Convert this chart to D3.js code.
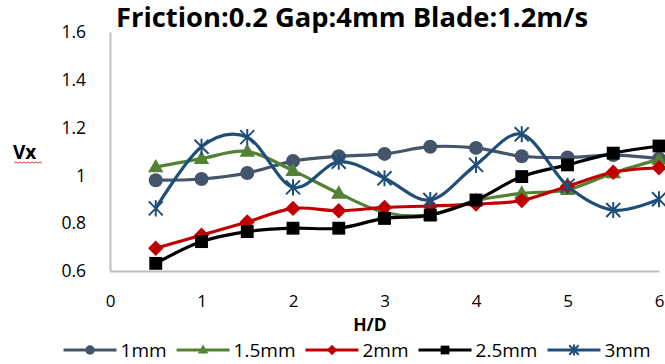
<!DOCTYPE html>
<html>
<head>
<meta charset="utf-8">
<script src="https://cdn.jsdelivr.net/npm/d3@7"></script>
<style>
  html, body { margin: 0; padding: 0; background: #fff; }
  svg { display: block; font-family: "Open Sans", "Noto Sans", sans-serif; }
</style>
</head>
<body>
<svg id="chart" width="665" height="364"></svg>
<script>
// H/D positions shared by every series
const hd = [0.5, 1, 1.5, 2, 2.5, 3, 3.5, 4, 4.5, 5, 5.5, 6];

// Vx for each blade gap
const vx1mm   = [0.98, 0.985, 1.01, 1.06, 1.08, 1.09, 1.12, 1.115, 1.08, 1.075, 1.085, 1.07];
const vx15mm  = [1.035, 1.07, 1.10, 1.02, 0.925, 0.845, 0.835, 0.895, 0.925, 0.94, 1.01, 1.067];
const vx2mm   = [0.695, 0.75, 0.805, 0.862, 0.852, 0.866, 0.872, 0.88, 0.895, 0.955, 1.013, 1.032];
const vx25mm  = [0.632, 0.723, 0.765, 0.779, 0.779, 0.82, 0.834, 0.897, 0.995, 1.044, 1.093, 1.123];
const vx3mm   = [0.862, 1.12, 1.16, 0.95, 1.057, 0.988, 0.897, 1.044, 1.172, 0.956, 0.855, 0.90];

const seriesNames = ["1mm", "1.5mm", "2mm", "2.5mm", "3mm"];
const seriesValues = [vx1mm, vx15mm, vx2mm, vx25mm, vx3mm];
const seriesColors = ["#44546A", "#548235", "#C00000", "#000000", "#1F4E79"];
const seriesMarkers = ["circle", "triangle", "diamond", "square", "star"];

const xTicks = [0, 1, 2, 3, 4, 5, 6];
const yTicks = [0.6, 0.8, 1.0, 1.2, 1.4, 1.6];

const titleText = "Friction:0.2 Gap:4mm Blade:1.2m/s";
const xTitle = "H/D";
const yTitle = "Vx";

const svg = d3.select("#chart");

const x = d3.scaleLinear().domain([0, 6]).range([110, 659]);
const y = d3.scaleLinear().domain([0.6, 1.6]).range([271, 32]);

// axes: plain grey lines, no tick marks
const xAxis = svg.append("g")
  .attr("transform", `translate(0,${y(0.6)})`)
  .call(d3.axisBottom(x).tickValues(xTicks).tickSize(0).tickFormat(d3.format("d")));
const yAxis = svg.append("g")
  .attr("transform", `translate(${x(0)},0)`)
  .call(d3.axisLeft(y).tickValues(yTicks).tickSize(0).tickPadding(24).tickFormat(d => d === 1 ? "1" : d3.format(".1f")(d)));

[xAxis, yAxis].forEach(a => {
  a.select(".domain").attr("stroke", "#BFBFBF").attr("stroke-width", 2);
  a.selectAll("text").attr("font-size", 17.5).attr("fill", "#000")
    .attr("font-family", "\"Open Sans\", sans-serif");
});
xAxis.selectAll("text").attr("dy", null).attr("y", 36).attr("font-size", 17);

// series lines, smoothed like the source workbook
const line = d3.line()
  .x((d, i) => x(hd[i]))
  .y(d => y(d))
  .curve(d3.curveCardinal.tension(0));

function drawMarker(g, type, cx, cy, color, s) {
  if (type === "circle") {
    g.append("circle").attr("cx", cx).attr("cy", cy).attr("r", s * 0.5).attr("fill", color);
  } else if (type === "triangle") {
    const h = s * 0.95;
    g.append("path")
      .attr("d", `M${cx},${cy - h * 0.6}L${cx + s * 0.55},${cy + h * 0.4}L${cx - s * 0.55},${cy + h * 0.4}Z`)
      .attr("fill", color);
  } else if (type === "diamond") {
    const r = s * 0.55;
    g.append("path")
      .attr("d", `M${cx},${cy - r}L${cx + r},${cy}L${cx},${cy + r}L${cx - r},${cy}Z`)
      .attr("fill", color);
  } else if (type === "square") {
    const r = s * 0.46;
    g.append("rect").attr("x", cx - r).attr("y", cy - r).attr("width", 2 * r).attr("height", 2 * r).attr("fill", color);
  } else if (type === "star") {
    const r = s * 0.5;
    const p = [];
    p.push(`M${cx - r},${cy - r}L${cx + r},${cy + r}`);
    p.push(`M${cx - r},${cy + r}L${cx + r},${cy - r}`);
    p.push(`M${cx},${cy - r * 1.15}L${cx},${cy + r * 1.15}`);
    g.append("path").attr("d", p.join("")).attr("stroke", color).attr("stroke-width", 2).attr("fill", "none");
  }
}

seriesValues.forEach((vals, k) => {
  const g = svg.append("g");
  g.append("path")
    .datum(vals)
    .attr("d", line)
    .attr("fill", "none")
    .attr("stroke", seriesColors[k])
    .attr("stroke-width", 3.2)
    .attr("stroke-linejoin", "round");
  vals.forEach((v, i) => drawMarker(g, seriesMarkers[k], x(hd[i]), y(v), seriesColors[k], 14));
});

// chart title
svg.append("text")
  .attr("x", 352).attr("y", 27)
  .attr("text-anchor", "middle")
  .attr("font-weight", "bold")
  .attr("font-size", 26)
  .attr("textLength", 472)
  .attr("lengthAdjust", "spacingAndGlyphs")
  .text(titleText);

// axis titles
svg.append("text")
  .attr("x", 370).attr("y", 331)
  .attr("text-anchor", "middle")
  .attr("font-weight", "bold")
  .attr("font-size", 17.5)
  .text(xTitle);

svg.append("text")
  .attr("x", 13).attr("y", 159)
  .attr("font-weight", "bold")
  .attr("font-size", 19)
  .text(yTitle);

// wavy proofing underline beneath the y title
const wave = [];
for (let px = 14; px <= 43; px += 2) wave.push([px, 162 + ((px / 2) % 2 === 0 ? 0 : 1.2)]);
svg.append("path")
  .attr("d", d3.line()(wave))
  .attr("fill", "none")
  .attr("stroke", "#F04040")
  .attr("stroke-width", 1);

// legend along the bottom
const legend = svg.append("g");
const lineLen = 53, textGap = 4, itemGap = 10, legY = 350;
let cursor = 0;
seriesNames.forEach((name, k) => {
  const it = legend.append("g");
  it.append("line")
    .attr("x1", 0).attr("x2", lineLen).attr("y1", 0).attr("y2", 0)
    .attr("stroke", seriesColors[k]).attr("stroke-width", 3.2);
  drawMarker(it, seriesMarkers[k], lineLen / 2, 0, seriesColors[k], 9.5);
  const t = it.append("text")
    .attr("x", lineLen + textGap).attr("y", 7)
    .attr("font-size", 19)
    .text(name);
  const w = lineLen + textGap + t.node().getComputedTextLength();
  it.attr("transform", `translate(${cursor},${legY})`);
  cursor += w + itemGap;
});
const total = cursor - itemGap;
legend.attr("transform", `translate(${357 - total / 2},0)`);
</script>
</body>
</html>
